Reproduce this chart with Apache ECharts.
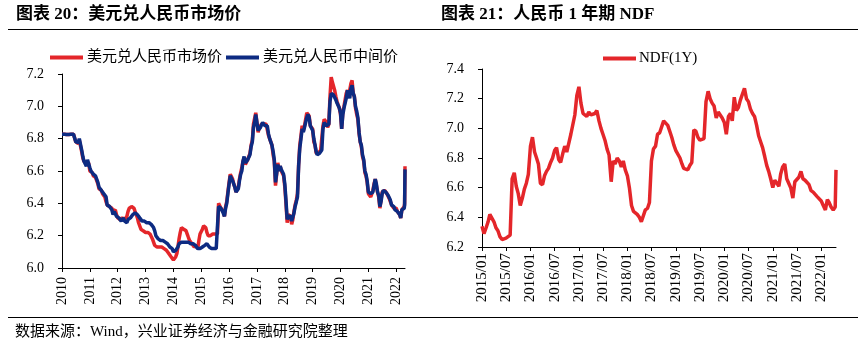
<!DOCTYPE html>
<html><head><meta charset="utf-8">
<script src="https://cdn.jsdelivr.net/npm/echarts@6/dist/echarts.min.js"></script>
<style>html,body{margin:0;padding:0;background:#fff}#c{width:867px;height:349px}</style>
</head><body><div id="c"></div>
<script>
// ---- Left chart: USD/CNY spot (market) and central parity, semi-monthly samples ----
const leftDates = [
'2010-01-01','2010-01-16','2010-02-01','2010-02-16','2010-03-01','2010-03-16','2010-04-01','2010-04-16','2010-05-01','2010-05-16','2010-06-01','2010-06-16','2010-07-01','2010-07-16','2010-08-01','2010-08-16','2010-09-01','2010-09-16','2010-10-01','2010-10-16','2010-11-01','2010-11-16','2010-12-01','2010-12-16',
'2011-01-01','2011-01-16','2011-02-01','2011-02-16','2011-03-01','2011-03-16','2011-04-01','2011-04-16','2011-05-01','2011-05-16','2011-06-01','2011-06-16','2011-07-01','2011-07-16','2011-08-01','2011-08-16','2011-09-01','2011-09-16','2011-10-01','2011-10-16','2011-11-01','2011-11-16','2011-12-01','2011-12-16',
'2012-01-01','2012-01-16','2012-02-01','2012-02-16','2012-03-01','2012-03-16','2012-04-01','2012-04-16','2012-05-01','2012-05-16','2012-06-01','2012-06-16','2012-07-01','2012-07-16','2012-08-01','2012-08-16','2012-09-01','2012-09-16','2012-10-01','2012-10-16','2012-11-01','2012-11-16','2012-12-01','2012-12-16',
'2013-01-01','2013-01-16','2013-02-01','2013-02-16','2013-03-01','2013-03-16','2013-04-01','2013-04-16','2013-05-01','2013-05-16','2013-06-01','2013-06-16','2013-07-01','2013-07-16','2013-08-01','2013-08-16','2013-09-01','2013-09-16','2013-10-01','2013-10-16','2013-11-01','2013-11-16','2013-12-01','2013-12-16',
'2014-01-01','2014-01-16','2014-02-01','2014-02-16','2014-03-01','2014-03-16','2014-04-01','2014-04-16','2014-05-01','2014-05-16','2014-06-01','2014-06-16','2014-07-01','2014-07-16','2014-08-01','2014-08-16','2014-09-01','2014-09-16','2014-10-01','2014-10-16','2014-11-01','2014-11-16','2014-12-01','2014-12-16',
'2015-01-01','2015-01-16','2015-02-01','2015-02-16','2015-03-01','2015-03-16','2015-04-01','2015-04-16','2015-05-01','2015-05-16','2015-06-01','2015-06-16','2015-07-01','2015-07-16','2015-08-01','2015-08-16','2015-09-01','2015-09-16','2015-10-01','2015-10-16','2015-11-01','2015-11-16','2015-12-01','2015-12-16',
'2016-01-01','2016-01-16','2016-02-01','2016-02-16','2016-03-01','2016-03-16','2016-04-01','2016-04-16','2016-05-01','2016-05-16','2016-06-01','2016-06-16','2016-07-01','2016-07-16','2016-08-01','2016-08-16','2016-09-01','2016-09-16','2016-10-01','2016-10-16','2016-11-01','2016-11-16','2016-12-01','2016-12-16',
'2017-01-01','2017-01-16','2017-02-01','2017-02-16','2017-03-01','2017-03-16','2017-04-01','2017-04-16','2017-05-01','2017-05-16','2017-06-01','2017-06-16','2017-07-01','2017-07-16','2017-08-01','2017-08-16','2017-09-01','2017-09-16','2017-10-01','2017-10-16','2017-11-01','2017-11-16','2017-12-01','2017-12-16',
'2018-01-01','2018-01-16','2018-02-01','2018-02-16','2018-03-01','2018-03-16','2018-04-01','2018-04-16','2018-05-01','2018-05-16','2018-06-01','2018-06-16','2018-07-01','2018-07-16','2018-08-01','2018-08-16','2018-09-01','2018-09-16','2018-10-01','2018-10-16','2018-11-01','2018-11-16','2018-12-01','2018-12-16',
'2019-01-01','2019-01-16','2019-02-01','2019-02-16','2019-03-01','2019-03-16','2019-04-01','2019-04-16','2019-05-01','2019-05-16','2019-06-01','2019-06-16','2019-07-01','2019-07-16','2019-08-01','2019-08-16','2019-09-01','2019-09-16','2019-10-01','2019-10-16','2019-11-01','2019-11-16','2019-12-01','2019-12-16',
'2020-01-01','2020-01-16','2020-02-01','2020-02-16','2020-03-01','2020-03-16','2020-04-01','2020-04-16','2020-05-01','2020-05-16','2020-06-01','2020-06-16','2020-07-01','2020-07-16','2020-08-01','2020-08-16','2020-09-01','2020-09-16','2020-10-01','2020-10-16','2020-11-01','2020-11-16','2020-12-01','2020-12-16',
'2021-01-01','2021-01-16','2021-02-01','2021-02-16','2021-03-01','2021-03-16','2021-04-01','2021-04-16','2021-05-01','2021-05-16','2021-06-01','2021-06-16','2021-07-01','2021-07-16','2021-08-01','2021-08-16','2021-09-01','2021-09-16','2021-10-01','2021-10-16','2021-11-01','2021-11-16','2021-12-01','2021-12-16',
'2022-01-01','2022-01-16','2022-02-01','2022-02-16','2022-03-01','2022-03-16','2022-04-01','2022-04-16','2022-04-21','2022-04-26'
];
const spotRate = [
6.827,6.827,6.827,6.827,6.826,6.826,6.826,6.826,6.828,6.828,6.828,6.826,6.78,6.77,6.77,6.79,6.79,6.72,6.68,6.66,6.65,6.65,6.66,6.65,
6.60,6.59,6.59,6.57,6.57,6.56,6.54,6.52,6.49,6.49,6.48,6.46,6.46,6.44,6.41,6.39,6.38,6.38,6.37,6.37,6.35,6.36,6.36,6.33,
6.31,6.32,6.30,6.30,6.31,6.31,6.30,6.30,6.32,6.35,6.37,6.36,6.38,6.38,6.37,6.35,6.33,6.31,6.28,6.27,6.24,6.24,6.23,6.23,
6.22,6.21,6.22,6.21,6.21,6.20,6.18,6.16,6.14,6.13,6.13,6.14,6.13,6.13,6.13,6.12,6.12,6.11,6.11,6.10,6.09,6.08,6.07,6.06,
6.05,6.04,6.07,6.09,6.13,6.18,6.22,6.25,6.26,6.24,6.25,6.23,6.21,6.19,6.17,6.16,6.15,6.14,6.13,6.13,6.14,6.12,6.17,6.21,
6.22,6.24,6.26,6.27,6.25,6.22,6.20,6.21,6.20,6.21,6.21,6.21,6.21,6.21,6.21,6.40,6.39,6.37,6.36,6.35,6.32,6.38,6.41,6.47,
6.53,6.58,6.57,6.55,6.52,6.50,6.47,6.48,6.50,6.55,6.59,6.62,6.66,6.68,6.64,6.65,6.67,6.68,6.71,6.76,6.79,6.89,6.90,6.96,
6.95,6.84,6.87,6.87,6.89,6.90,6.89,6.89,6.89,6.88,6.82,6.80,6.78,6.76,6.70,6.66,6.51,6.52,6.65,6.61,6.63,6.60,6.61,6.57,
6.50,6.40,6.28,6.33,6.34,6.32,6.27,6.30,6.35,6.39,6.42,6.46,6.64,6.76,6.82,6.88,6.85,6.88,6.88,6.96,6.96,6.94,6.88,6.89,
6.86,6.78,6.76,6.71,6.70,6.71,6.72,6.73,6.74,6.88,6.92,6.91,6.90,6.87,6.89,7.06,7.18,7.15,7.14,7.10,7.06,7.03,7.01,6.99,
6.95,6.86,6.97,7.00,6.99,7.08,7.10,7.06,7.06,7.14,7.16,7.08,7.06,6.99,6.95,6.92,6.83,6.78,6.75,6.69,6.66,6.59,6.57,6.53,
6.46,6.45,6.44,6.46,6.48,6.52,6.55,6.51,6.47,6.44,6.37,6.42,6.47,6.48,6.48,6.47,6.46,6.45,6.43,6.41,6.39,6.38,6.37,6.36,
6.37,6.35,6.36,6.33,6.31,6.36,6.37,6.38,6.40,6.63
];
const midRate = [
6.827,6.827,6.827,6.827,6.826,6.826,6.826,6.826,6.827,6.827,6.827,6.826,6.78,6.775,6.776,6.80,6.80,6.73,6.69,6.66,6.67,6.63,6.67,6.66,
6.62,6.60,6.59,6.58,6.57,6.57,6.56,6.53,6.50,6.50,6.48,6.47,6.46,6.45,6.44,6.39,6.38,6.38,6.37,6.36,6.33,6.35,6.34,6.32,
6.31,6.31,6.30,6.29,6.30,6.31,6.29,6.29,6.28,6.30,6.31,6.31,6.32,6.33,6.34,6.34,6.34,6.33,6.33,6.31,6.30,6.29,6.29,6.29,
6.28,6.28,6.28,6.28,6.27,6.27,6.27,6.25,6.23,6.20,6.19,6.18,6.17,6.17,6.17,6.17,6.17,6.16,6.16,6.15,6.14,6.13,6.13,6.12,
6.10,6.10,6.11,6.12,6.13,6.15,6.15,6.16,6.16,6.16,6.15,6.16,6.16,6.16,6.16,6.15,6.15,6.15,6.14,6.14,6.13,6.12,6.12,6.12,
6.12,6.13,6.13,6.14,6.15,6.15,6.14,6.13,6.12,6.12,6.11,6.12,6.12,6.12,6.12,6.38,6.39,6.37,6.36,6.34,6.32,6.37,6.40,6.46,
6.52,6.57,6.56,6.54,6.53,6.50,6.47,6.46,6.49,6.54,6.58,6.60,6.66,6.69,6.65,6.64,6.67,6.68,6.70,6.75,6.78,6.87,6.90,6.95,
6.94,6.85,6.86,6.87,6.88,6.90,6.89,6.88,6.89,6.88,6.83,6.80,6.78,6.76,6.72,6.67,6.53,6.53,6.64,6.60,6.63,6.61,6.61,6.58,
6.52,6.42,6.30,6.32,6.33,6.32,6.29,6.29,6.34,6.38,6.41,6.44,6.63,6.74,6.80,6.86,6.84,6.87,6.87,6.93,6.95,6.93,6.88,6.88,
6.85,6.80,6.76,6.72,6.70,6.70,6.71,6.72,6.73,6.86,6.90,6.89,6.88,6.88,6.89,7.03,7.08,7.08,7.07,7.06,7.04,7.02,7.01,6.99,
6.96,6.86,6.95,6.99,6.98,7.05,7.10,7.07,7.05,7.11,7.13,7.08,7.06,7.00,6.97,6.93,6.84,6.78,6.76,6.70,6.67,6.60,6.58,6.54,
6.47,6.46,6.46,6.45,6.47,6.51,6.55,6.52,6.47,6.45,6.38,6.41,6.46,6.48,6.48,6.47,6.46,6.45,6.44,6.42,6.39,6.39,6.38,6.36,
6.37,6.35,6.36,6.33,6.31,6.36,6.36,6.37,6.39,6.61
];
const leftYearLabels = ['2010','2011','2012','2013','2014','2015','2016','2017','2018','2019','2020','2021','2022'];

// ---- Right chart: CNY 1-year NDF, semi-monthly samples ----
const ndfDates = leftDates.filter(d => d >= '2015-01-01' && d <= '2022-04-16').concat(['2022-04-22']);
const ndf1y = [
6.34,6.29,6.33,6.37,6.42,6.41,6.37,6.33,6.31,6.27,6.25,6.24,6.26,6.26,6.28,6.66,6.70,6.61,6.56,6.48,6.53,6.59,6.63,6.69,
6.88,6.94,6.84,6.80,6.76,6.63,6.62,6.68,6.71,6.73,6.77,6.80,6.85,6.87,6.79,6.77,6.83,6.88,6.84,6.83,6.96,6.97,7.09,7.22,
7.28,7.17,7.10,7.09,7.08,7.11,7.09,7.08,7.10,7.12,7.05,7.00,6.96,6.92,6.86,6.82,6.64,6.78,6.76,6.80,6.78,6.74,6.78,6.72,
6.68,6.60,6.48,6.44,6.45,6.42,6.40,6.37,6.38,6.45,6.46,6.50,6.78,6.86,6.88,6.96,6.97,6.96,7.05,7.05,7.02,6.98,6.94,6.89,
6.85,6.84,6.80,6.76,6.73,6.74,6.72,6.75,6.77,6.99,6.98,6.94,6.92,6.91,6.93,7.18,7.25,7.20,7.17,7.15,7.07,7.11,7.11,7.07,
7.04,6.96,7.08,7.10,7.05,7.21,7.12,7.14,7.19,7.20,7.27,7.20,7.18,7.13,7.10,7.08,7.02,6.95,6.91,6.87,6.81,6.75,6.71,6.66,
6.60,6.65,6.63,6.61,6.69,6.74,6.76,6.66,6.63,6.60,6.53,6.64,6.64,6.67,6.71,6.66,6.65,6.64,6.62,6.58,6.57,6.56,6.54,6.53,
6.51,6.48,6.45,6.52,6.50,6.47,6.45,6.47,6.72
];
const ndfTickLabels = ['2015/01','2015/07','2016/01','2016/07','2017/01','2017/07','2018/01','2018/07','2019/01','2019/07','2020/01','2020/07','2021/01','2021/07','2022/01'];

// ---- helpers ----
function toYear(s) {
  const p = s.split(/[-\/]/).map(Number);
  const y = p[0], m = p[1] || 1, d = p[2] || 1;
  const a = Date.UTC(y, 0, 1), b = Date.UTC(y + 1, 0, 1);
  return y + (Date.UTC(y, m - 1, d) - a) / (b - a);
}
const pair = (dates, vals) => dates.map((d, i) => [toYear(d), vals[i]]);

const SERIF = '"Liberation Serif","Times New Roman","Noto Sans CJK SC",serif';
const CJK = '"Liberation Serif","Noto Sans CJK SC",serif';
const RED = '#E4262A';
const BLUE = '#0D2B82';

const leftTicks = leftYearLabels.map(s => toYear(s));
const rightTicks = ndfTickLabels.map(s => toYear(s));
const leftMax = toYear(leftDates[leftDates.length - 1]);
const rightMax = toYear(ndfDates[ndfDates.length - 1]);

const labelMap = {};
ndfTickLabels.forEach((s, i) => { labelMap[rightTicks[i].toFixed(4)] = s; });

const axisCommon = {
  axisLine: { show: true, lineStyle: { color: '#000', width: 1 } },
  axisTick: { show: true, length: 4, lineStyle: { color: '#000' } },
  splitLine: { show: false }
};

const chart = echarts.init(document.getElementById('c'), null, { renderer: 'canvas' });
chart.setOption({
  animation: false,
  backgroundColor: '#fff',
  grid: [
    { left: 62, top: 74, width: 343, height: 194 },
    { left: 482, top: 69, width: 354, height: 178 }
  ],
  legend: [
    { data: ['美元兑人民币市场价', '美元兑人民币中间价'], left: 50, top: 50, padding: 0,
      icon: 'rect', itemWidth: 33, itemHeight: 4, itemGap: 4,
      textStyle: { fontSize: 15, fontFamily: CJK, color: '#000', padding: [0, 0, 0, -1] } },
    { data: ['NDF(1Y)'], left: 603, top: 51, padding: 0,
      icon: 'rect', itemWidth: 33, itemHeight: 4,
      textStyle: { fontSize: 15, fontFamily: SERIF, color: '#000', padding: [0, 0, 0, -2] } }
  ],
  xAxis: [
    Object.assign({}, axisCommon, {
      type: 'value', gridIndex: 0, min: 2010, max: leftMax, interval: 1,
      axisTick: { show: true, length: 4, lineStyle: { color: '#000' }, customValues: leftTicks },
      axisLabel: { customValues: leftTicks, rotate: 90, margin: 9, fontSize: 14, fontFamily: SERIF, color: '#000',
        formatter: v => String(Math.round(v)) }
    }),
    Object.assign({}, axisCommon, {
      type: 'value', gridIndex: 1, min: 2015, max: rightMax, interval: 0.5,
      axisTick: { show: true, length: 4, lineStyle: { color: '#000' }, customValues: rightTicks },
      axisLabel: { customValues: rightTicks, rotate: 90, margin: 6, fontSize: 15, fontFamily: SERIF, color: '#000',
        formatter: v => labelMap[v.toFixed(4)] || '' }
    })
  ],
  yAxis: [
    Object.assign({}, axisCommon, {
      type: 'value', gridIndex: 0, min: 6.0, max: 7.2, interval: 0.2,
      axisLabel: { margin: 18, fontSize: 14, fontFamily: SERIF, color: '#000', formatter: v => v.toFixed(1) }
    }),
    Object.assign({}, axisCommon, {
      type: 'value', gridIndex: 1, min: 6.2, max: 7.4, interval: 0.2,
      axisLabel: { margin: 18, fontSize: 14, fontFamily: SERIF, color: '#000', formatter: v => v.toFixed(1) }
    })
  ],
  series: [
    { name: '美元兑人民币市场价', type: 'line', xAxisIndex: 0, yAxisIndex: 0, showSymbol: false,
      data: pair(leftDates, spotRate), color: RED, lineStyle: { color: RED, width: 3.5 } },
    { name: '美元兑人民币中间价', type: 'line', xAxisIndex: 0, yAxisIndex: 0, showSymbol: false,
      data: pair(leftDates, midRate), color: BLUE, lineStyle: { color: BLUE, width: 3.5 } },
    { name: 'NDF(1Y)', type: 'line', xAxisIndex: 1, yAxisIndex: 1, showSymbol: false,
      data: pair(ndfDates, ndf1y), color: RED, lineStyle: { color: RED, width: 3.5 } }
  ],
  graphic: [
    { type: 'text', left: 16, top: 6, style: { text: '图表 20：美元兑人民币市场价', font: 'bold 17px ' + CJK, fill: '#000' } },
    { type: 'text', left: 441, top: 6, style: { text: '图表 21：人民币 1 年期 NDF', font: 'bold 17px ' + CJK, fill: '#000' } },
    { type: 'line', shape: { x1: 8, y1: 29.5, x2: 858, y2: 29.5 }, style: { stroke: '#000', lineWidth: 1 } },
    { type: 'line', shape: { x1: 8, y1: 317.5, x2: 858, y2: 317.5 }, style: { stroke: '#000', lineWidth: 1 } },
    { type: 'text', left: 15, top: 325, style: { text: '数据来源：Wind，兴业证券经济与金融研究院整理', font: '15px ' + CJK, fill: '#000' } }
  ]
});
</script>
</body></html>
